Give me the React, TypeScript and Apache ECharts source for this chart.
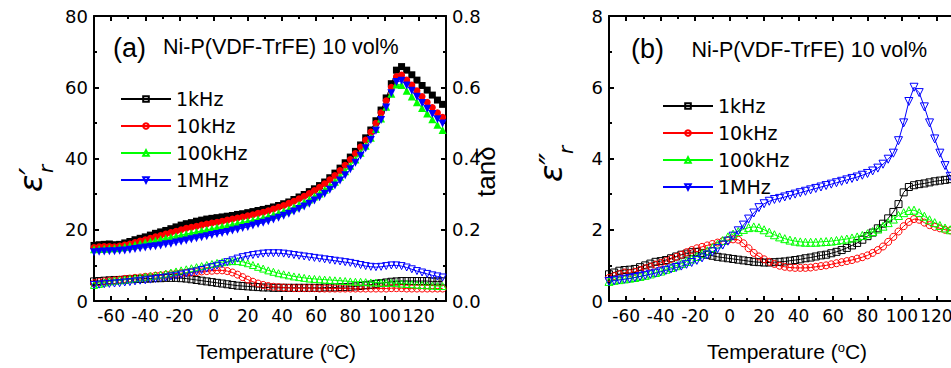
import React, { useEffect, useRef } from 'react';
import * as echarts from 'echarts';

// Temperature (°C) of each measured point
const temps = [
  -70, -67, -64, -61, -58, -55, -52, -49, -46, -43,
  -40, -37, -34, -31, -28, -25, -22, -19, -16, -13,
  -10, -7, -4, -1, 2, 5, 8, 11, 14, 17,
  20, 23, 26, 29, 32, 35, 38, 41, 44, 47,
  50, 53, 56, 59, 62, 65, 68, 71, 74, 77,
  80, 83, 86, 89, 92, 95, 98, 101, 104, 107,
  110, 113, 116, 119, 122, 125, 128, 131, 134,
];

// Panel (a): real permittivity eps'_r (left axis)
const epsA1k = [
  15.6, 15.8, 15.9, 16.0, 15.8, 15.9, 16.3, 16.7, 17.2, 17.6,
  18.0, 18.5, 19.0, 19.4, 19.8, 20.3, 20.8, 21.3, 21.7, 22.0,
  22.4, 22.7, 23.0, 23.2, 23.4, 23.6, 23.8, 24.0, 24.3, 24.5,
  24.8, 25.1, 25.4, 25.7, 26.0, 26.4, 26.8, 27.3, 27.8, 28.5,
  29.2, 29.9, 30.7, 31.5, 32.4, 33.4, 34.6, 35.9, 37.3, 38.8,
  40.4, 42.0, 43.8, 45.8, 48.0, 50.6, 53.6, 57.0, 61.0, 64.8,
  65.8, 64.8, 63.5, 62.0, 60.5, 59.2, 57.8, 56.4, 55.2,
];
const epsA10k = [
  15.0, 15.2, 15.3, 15.3, 15.2, 15.4, 15.7, 16.0, 16.4, 16.8,
  17.2, 17.6, 18.0, 18.4, 18.8, 19.2, 19.6, 20.0, 20.4, 20.7,
  21.0, 21.3, 21.6, 21.9, 22.1, 22.4, 22.7, 23.0, 23.3, 23.6,
  23.9, 24.2, 24.6, 24.9, 25.3, 25.8, 26.3, 26.8, 27.4, 28.0,
  28.7, 29.4, 30.2, 31.0, 31.9, 32.9, 34.0, 35.2, 36.6, 38.1,
  39.7, 41.4, 43.2, 45.2, 47.4, 49.9, 52.8, 56.2, 60.0, 63.0,
  63.4, 62.0, 60.6, 59.0, 57.4, 55.8, 54.3, 52.8, 51.6,
];
const epsA100k = [
  14.5, 14.6, 14.7, 14.8, 14.8, 15.0, 15.2, 15.5, 15.8, 16.1,
  16.4, 16.7, 17.0, 17.3, 17.6, 17.9, 18.2, 18.5, 18.8, 19.1,
  19.4, 19.7, 20.0, 20.3, 20.6, 20.9, 21.2, 21.5, 21.8, 22.1,
  22.4, 22.7, 23.0, 23.4, 23.8, 24.2, 24.7, 25.2, 25.7, 26.3,
  27.0, 27.7, 28.5, 29.3, 30.2, 31.2, 32.3, 33.5, 34.9, 36.4,
  38.0, 39.7, 41.6, 43.6, 45.8, 48.3, 51.2, 54.5, 58.2, 60.8,
  60.6, 59.0, 57.4, 55.8, 54.2, 52.6, 51.0, 49.5, 48.0,
];
const epsA1M = [
  13.7, 13.8, 13.9, 14.0, 14.0, 14.1, 14.2, 14.4, 14.6, 14.8,
  15.0, 15.2, 15.4, 15.6, 15.9, 16.1, 16.4, 16.7, 17.0, 17.3,
  17.6, 17.9, 18.2, 18.5, 18.8, 19.1, 19.4, 19.8, 20.1, 20.5,
  20.8, 21.2, 21.6, 22.0, 22.4, 22.9, 23.4, 23.9, 24.5, 25.1,
  25.8, 26.5, 27.3, 28.2, 29.1, 30.1, 31.2, 32.4, 33.8, 35.3,
  37.0, 38.8, 40.8, 42.9, 45.2, 47.8, 50.8, 54.3, 58.3, 61.5,
  61.8, 60.5, 59.0, 57.3, 55.6, 54.0, 52.5, 51.0, 49.8,
];

// Panel (a): loss tangent tan(delta) (right axis)
const tanA1k = [
  0.055, 0.056, 0.057, 0.058, 0.059, 0.059, 0.060, 0.061, 0.062, 0.062,
  0.063, 0.063, 0.064, 0.064, 0.065, 0.065, 0.065, 0.064, 0.063, 0.061,
  0.059, 0.057, 0.055, 0.053, 0.051, 0.049, 0.047, 0.045, 0.043, 0.042,
  0.041, 0.040, 0.039, 0.038, 0.038, 0.037, 0.037, 0.037, 0.037, 0.037,
  0.037, 0.037, 0.037, 0.037, 0.037, 0.038, 0.038, 0.038, 0.039, 0.039,
  0.040, 0.041, 0.042, 0.044, 0.046, 0.048, 0.050, 0.052, 0.054, 0.055,
  0.056, 0.056, 0.056, 0.056, 0.056, 0.056, 0.055, 0.055, 0.055,
];
const tanA10k = [
  0.050, 0.053, 0.055, 0.057, 0.058, 0.060, 0.062, 0.063, 0.065, 0.066,
  0.068, 0.069, 0.071, 0.072, 0.074, 0.075, 0.077, 0.078, 0.079, 0.080,
  0.081, 0.083, 0.084, 0.085, 0.086, 0.086, 0.084, 0.080, 0.074, 0.067,
  0.060, 0.054, 0.049, 0.045, 0.042, 0.040, 0.039, 0.038, 0.037, 0.036,
  0.036, 0.036, 0.036, 0.036, 0.035, 0.035, 0.035, 0.035, 0.035, 0.035,
  0.035, 0.035, 0.035, 0.035, 0.035, 0.035, 0.035, 0.035, 0.036, 0.036,
  0.036, 0.035, 0.035, 0.035, 0.035, 0.035, 0.035, 0.035, 0.035,
];
const tanA100k = [
  0.045, 0.048, 0.052, 0.055, 0.057, 0.058, 0.060, 0.062, 0.064, 0.066,
  0.068, 0.070, 0.072, 0.074, 0.077, 0.080, 0.083, 0.086, 0.089, 0.092,
  0.095, 0.098, 0.101, 0.104, 0.107, 0.109, 0.111, 0.112, 0.112, 0.110,
  0.106, 0.101, 0.096, 0.091, 0.086, 0.082, 0.078, 0.075, 0.072, 0.069,
  0.067, 0.065, 0.063, 0.062, 0.061, 0.060, 0.059, 0.058, 0.057, 0.056,
  0.055, 0.054, 0.054, 0.053, 0.052, 0.052, 0.051, 0.051, 0.051, 0.050,
  0.049, 0.048, 0.047, 0.046, 0.045, 0.044, 0.043, 0.042, 0.042,
];
const tanA1M = [
  0.045, 0.046, 0.047, 0.048, 0.049, 0.050, 0.052, 0.053, 0.055, 0.057,
  0.058, 0.060, 0.062, 0.064, 0.066, 0.069, 0.071, 0.074, 0.077, 0.080,
  0.083, 0.087, 0.091, 0.095, 0.099, 0.104, 0.109, 0.114, 0.119, 0.123,
  0.126, 0.129, 0.131, 0.133, 0.134, 0.134, 0.134, 0.133, 0.131, 0.129,
  0.127, 0.125, 0.123, 0.121, 0.119, 0.117, 0.115, 0.113, 0.111, 0.109,
  0.107, 0.104, 0.101, 0.098, 0.096, 0.095, 0.096, 0.098, 0.100, 0.100,
  0.098, 0.094, 0.089, 0.084, 0.080, 0.076, 0.072, 0.069, 0.066,
];

// Panel (b): imaginary permittivity eps''_r
const epsB1k = [
  0.75, 0.80, 0.85, 0.87, 0.88, 0.90, 0.95, 1.00, 1.05, 1.10,
  1.12, 1.15, 1.20, 1.25, 1.30, 1.33, 1.37, 1.38, 1.35, 1.30,
  1.27, 1.24, 1.22, 1.20, 1.18, 1.16, 1.14, 1.12, 1.10, 1.09,
  1.08, 1.08, 1.09, 1.10, 1.11, 1.13, 1.15, 1.17, 1.20, 1.22,
  1.25, 1.28, 1.30, 1.34, 1.38, 1.43, 1.49, 1.56, 1.63, 1.72,
  1.82, 1.92, 2.04, 2.17, 2.32, 2.50, 2.72, 3.05, 3.20, 3.25,
  3.28, 3.30, 3.33, 3.36, 3.38, 3.40, 3.42, 3.44, 3.45,
];
const epsB10k = [
  0.65, 0.70, 0.75, 0.80, 0.78, 0.82, 0.87, 0.92, 0.97, 1.02,
  1.07, 1.12, 1.18, 1.24, 1.30, 1.37, 1.43, 1.48, 1.52, 1.56,
  1.60, 1.64, 1.68, 1.71, 1.73, 1.72, 1.62, 1.48, 1.35, 1.25,
  1.17, 1.10, 1.04, 0.99, 0.96, 0.94, 0.93, 0.93, 0.93, 0.94,
  0.96, 0.98, 1.00, 1.03, 1.06, 1.09, 1.12, 1.15, 1.19, 1.23,
  1.28, 1.35, 1.43, 1.53, 1.66, 1.80, 1.95, 2.10, 2.22, 2.30,
  2.28, 2.20, 2.13, 2.08, 2.04, 2.00, 1.98, 1.95, 1.92,
];
const epsB100k = [
  0.55, 0.58, 0.60, 0.62, 0.64, 0.66, 0.69, 0.72, 0.76, 0.80,
  0.84, 0.89, 0.94, 0.99, 1.05, 1.11, 1.18, 1.25, 1.33, 1.41,
  1.50, 1.60, 1.70, 1.80, 1.88, 1.95, 2.01, 2.06, 2.08, 2.06,
  2.00, 1.93, 1.86, 1.80, 1.75, 1.71, 1.68, 1.66, 1.65, 1.65,
  1.65, 1.66, 1.67, 1.68, 1.70, 1.72, 1.74, 1.77, 1.80, 1.84,
  1.89, 1.95, 2.02, 2.10, 2.20, 2.30, 2.40, 2.48, 2.54, 2.55,
  2.48, 2.38, 2.28, 2.20, 2.12, 2.05, 2.00, 1.96, 1.93,
];
const epsB1M = [
  0.55, 0.57, 0.59, 0.61, 0.63, 0.66, 0.69, 0.72, 0.75, 0.78,
  0.82, 0.86, 0.90, 0.94, 0.98, 1.03, 1.08, 1.14, 1.21, 1.29,
  1.38, 1.47, 1.57, 1.68, 1.82, 1.97, 2.13, 2.30, 2.47, 2.62,
  2.73, 2.80, 2.85, 2.88, 2.92, 2.96, 3.00, 3.04, 3.08, 3.12,
  3.16, 3.20, 3.24, 3.28, 3.32, 3.36, 3.40, 3.44, 3.48, 3.53,
  3.58, 3.65, 3.73, 3.84, 3.98, 4.15, 4.50, 5.00, 5.60, 6.00,
  5.85, 5.45, 5.00, 4.55, 4.15, 3.80, 3.50, 3.30, 3.15,
];

// Axis tick values
const xTicks = [-60, -40, -20, 0, 20, 40, 60, 80, 100, 120];
const xMinorTicks = [-50, -30, -10, 10, 30, 50, 70, 90, 110, 130];
const freqNames = ['1kHz', '10kHz', '100kHz', '1MHz'];
const colors = ['#000000', '#ff0000', '#00ff00', '#0000ff'];

const DOWN = 'path://M0,0L10,0L5,9Z';
const symbolsList = ['rect', 'circle', 'triangle', DOWN];
const symSizes = [7, 7, 8, 8];

const X_MIN = -70;
const X_MAX = 136;
const SANS = 'Liberation Sans';
const WIDE = 'DejaVu Sans';

const pairs = (vals: number[]) => temps.map((t, i) => [t, vals[i]]);

const axisLineStyle = { color: '#000', width: 2 };

function xAxes(gridIndex: number) {
  const base = {
    type: 'value',
    gridIndex,
    min: X_MIN,
    max: X_MAX,
    splitLine: { show: false },
    minorSplitLine: { show: false },
  };
  return [
    {
      ...base,
      position: 'bottom',
      axisLine: { show: true, onZero: false, lineStyle: axisLineStyle },
      axisTick: { show: true, inside: true, length: 5, customValues: xTicks, lineStyle: axisLineStyle },
      axisLabel: { show: true, customValues: xTicks, color: '#000', fontFamily: WIDE, fontSize: 17, margin: 6 },
    },
    {
      ...base,
      position: 'bottom',
      axisLine: { show: false, onZero: false },
      axisTick: { show: true, inside: true, length: 3, customValues: xMinorTicks, lineStyle: axisLineStyle },
      axisLabel: { show: false },
    },
    {
      ...base,
      position: 'top',
      axisLine: { show: true, onZero: false, lineStyle: axisLineStyle },
      axisTick: { show: true, inside: true, length: 5, customValues: xTicks, lineStyle: axisLineStyle },
      axisLabel: { show: false },
    },
    {
      ...base,
      position: 'top',
      axisLine: { show: false, onZero: false },
      axisTick: { show: true, inside: true, length: 3, customValues: xMinorTicks, lineStyle: axisLineStyle },
      axisLabel: { show: false },
    },
  ];
}

function yAxis(gridIndex: number, position: string, max: number, interval: number, showLabel: boolean, fmt?: (v: number) => string) {
  return {
    type: 'value',
    gridIndex,
    position,
    min: 0,
    max,
    interval,
    splitLine: { show: false },
    minorSplitLine: { show: false },
    axisLine: { show: true, onZero: false, lineStyle: axisLineStyle },
    axisTick: { show: true, inside: true, length: 5, lineStyle: axisLineStyle },
    minorTick: { show: true, splitNumber: 2, length: 3, lineStyle: axisLineStyle },
    axisLabel: {
      show: showLabel,
      color: '#000',
      fontFamily: WIDE,
      fontSize: 18,
      margin: 6,
      formatter: fmt,
    },
  };
}

function hollowSeries(name: string, vals: number[], i: number, xAxisIndex: number, yAxisIndex: number, size: number) {
  return {
    type: 'line',
    name,
    xAxisIndex,
    yAxisIndex,
    data: pairs(vals),
    symbol: symbolsList[i],
    symbolSize: size,
    showSymbol: true,
    silent: true,
    itemStyle: { color: 'rgba(0,0,0,0)', borderColor: colors[i], borderWidth: 1 },
    lineStyle: { color: colors[i], width: 1 },
    emphasis: { disabled: true },
    z: 3,
  };
}

function filledSeries(name: string, vals: number[], i: number) {
  return {
    type: 'line',
    name,
    xAxisIndex: 0,
    yAxisIndex: 0,
    data: pairs(vals),
    symbol: symbolsList[i],
    symbolSize: symSizes[i],
    showSymbol: true,
    silent: true,
    itemStyle: { color: colors[i] },
    lineStyle: { color: colors[i], width: 1 },
    emphasis: { disabled: true },
    z: 2,
  };
}

function textEl(x: number, y: number, text: string, fontSize: number, extra: any = {}) {
  return {
    type: 'text',
    x,
    y,
    rotation: extra.rotation || 0,
    silent: true,
    style: {
      text,
      fontFamily: extra.fontFamily || SANS,
      fontSize,
      fontStyle: extra.fontStyle || 'normal',
      fill: '#000',
      textAlign: extra.textAlign || 'left',
      textVerticalAlign: 'middle',
    },
  };
}

function xTitle(cx: number, cy: number) {
  return {
    type: 'text',
    x: cx,
    y: cy,
    silent: true,
    style: {
      text: '{a|Temperature (}{s|o}{a|C)}',
      rich: {
        a: { fontFamily: SANS, fontSize: 21, fill: '#000' },
        s: { fontFamily: SANS, fontSize: 13, fill: '#000', verticalAlign: 'top' },
      },
      fontFamily: SANS,
      fontSize: 21,
      fill: '#000',
      textAlign: 'center',
      textVerticalAlign: 'middle',
    },
  };
}

export default function App() {
  const ref = useRef<HTMLDivElement>(null);

  useEffect(() => {
    if (!ref.current) return;
    const chart = echarts.init(ref.current, null, { renderer: 'svg' });
    const epsA = [epsA1k, epsA10k, epsA100k, epsA1M];
    const tanA = [tanA1k, tanA10k, tanA100k, tanA1M];
    const epsB = [epsB1k, epsB10k, epsB100k, epsB1M];

    const series: any[] = [];
    epsA.forEach((v, i) => series.push(filledSeries(freqNames[i] + ' ε′', v, i)));
    tanA.forEach((v, i) => series.push(hollowSeries(freqNames[i], v, i, 0, 1, 7)));
    epsB.forEach((v, i) => series.push(hollowSeries(freqNames[i], v, i, 4, 2, symSizes[i])));

    const legendBase = {
      orient: 'vertical',
      itemWidth: 50,
      itemHeight: 7,
      itemGap: 7,
      padding: 0,
      selectedMode: false,
      data: freqNames,
      textStyle: { color: '#000', fontFamily: WIDE, fontSize: 19, lineHeight: 20 },
    };

    const option: any = {
      animation: false,
      backgroundColor: '#ffffff',
      grid: [
        { left: 94, top: 16, width: 352, height: 285, outerBoundsMode: 'none', containLabel: false },
        { left: 609, top: 16, width: 355, height: 285, outerBoundsMode: 'none', containLabel: false },
      ],
      xAxis: [...xAxes(0), ...xAxes(1)],
      yAxis: [
        yAxis(0, 'left', 80, 20, true),
        yAxis(0, 'right', 0.8, 0.2, true, (v: number) => v.toFixed(1)),
        yAxis(1, 'left', 8, 2, true),
        yAxis(1, 'right', 8, 2, false),
      ],
      legend: [
        { ...legendBase, left: 120, top: 89 },
        { ...legendBase, left: 662, top: 96 },
      ],
      tooltip: { show: false },
      series,
      graphic: [
        textEl(113, 48, '(a)', 27),
        textEl(163, 47, 'Ni-P(VDF-TrFE) 10 vol%', 21.5),
        textEl(631, 49, '(b)', 27),
        textEl(691.5, 50, 'Ni-P(VDF-TrFE) 10 vol%', 21.5),
        xTitle(276, 351),
        xTitle(787, 351.5),
        textEl(31, 192, 'ε′', 32, { rotation: Math.PI / 2, fontFamily: WIDE, fontStyle: 'italic' }),
        textEl(46, 173, 'r', 20, { rotation: Math.PI / 2, fontFamily: WIDE, fontStyle: 'italic' }),
        textEl(551, 182, 'ε″', 32, { rotation: Math.PI / 2, fontFamily: WIDE, fontStyle: 'italic' }),
        textEl(566, 154, 'r', 20, { rotation: Math.PI / 2, fontFamily: WIDE, fontStyle: 'italic' }),
        textEl(486, 197, 'tanδ', 26, { rotation: Math.PI / 2 }),
      ],
    };
    chart.setOption(option);
    return () => chart.dispose();
  }, []);

  return (
    <div
      ref={ref}
      style={{ position: 'absolute', left: 0, top: 0, width: 951, height: 368, background: '#fff' }}
    />
  );
}
